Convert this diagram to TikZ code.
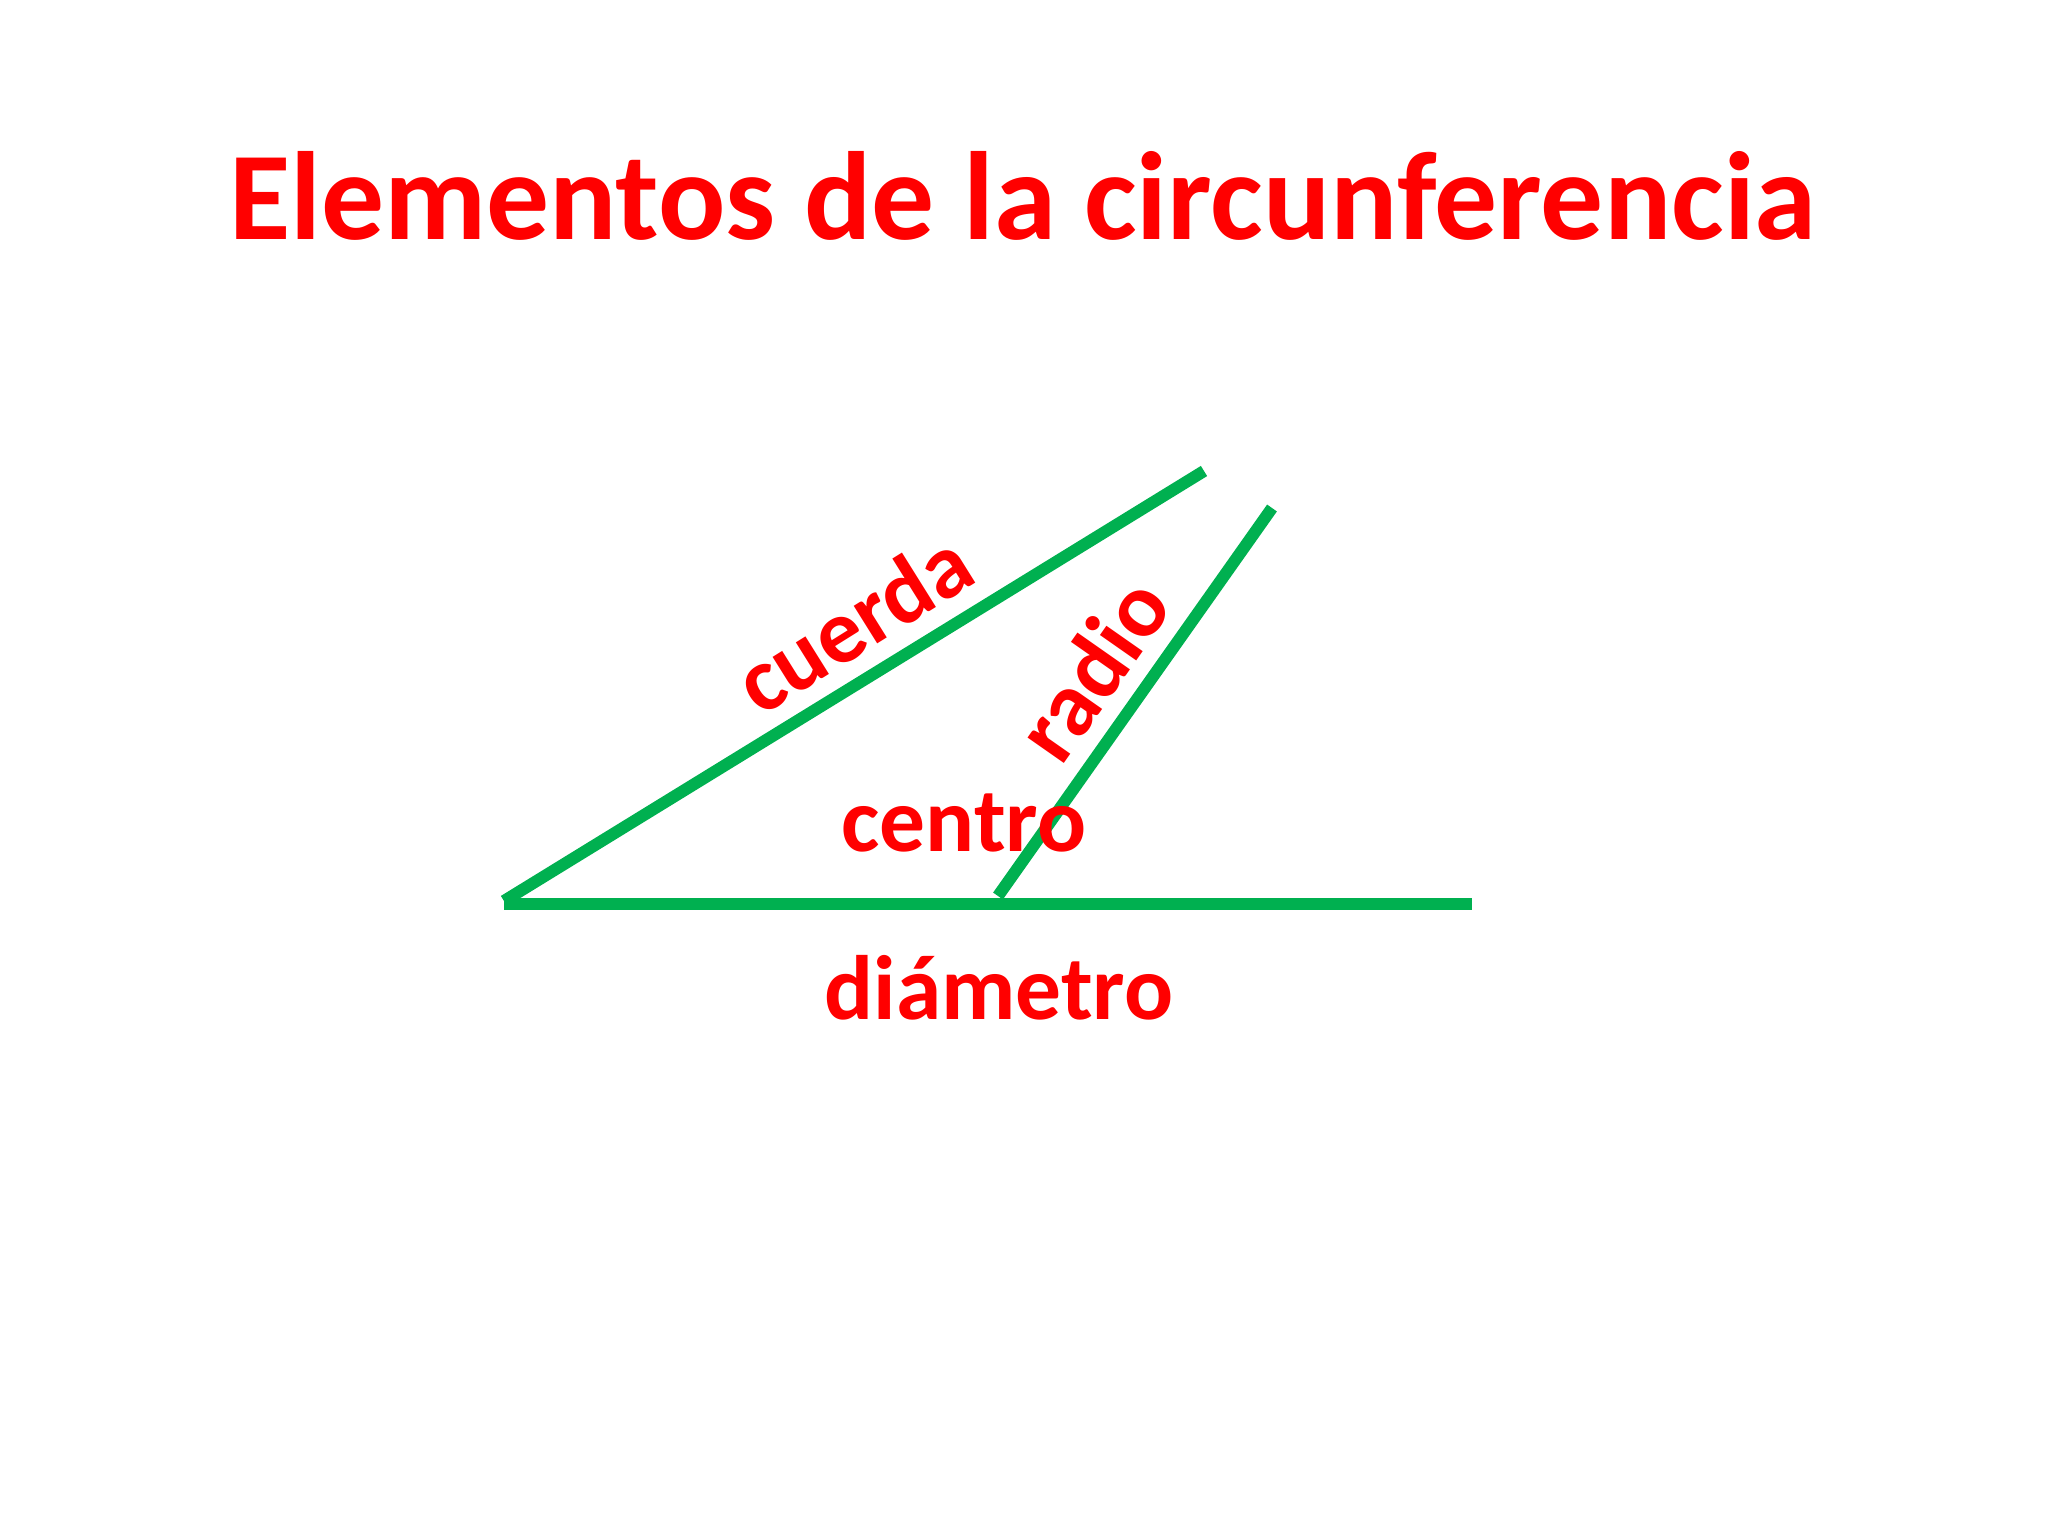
\documentclass[tikz,border=0pt]{standalone}
\usepackage{fontspec}
\setmainfont{Carlito}
\definecolor{segred}{RGB}{255,0,0}
\definecolor{seggreen}{RGB}{0,176,80}
\tikzstyle{title}=[text=segred,font=\fontsize{35.7}{42}\selectfont\bfseries,inner sep=0pt]
\tikzstyle{label}=[text=segred,font=\fontsize{26}{31}\selectfont\bfseries,inner sep=0pt]
\tikzstyle{segment}=[draw=seggreen,line width=3.4pt]

\begin{document}
\begin{tikzpicture}[x=0.01cm,y=-0.01cm]
	\useasboundingbox (0,0) rectangle (2048,1536);
	\node [style=title,anchor=base] (title) at (1023, 239) {Elementos de la circunferencia};
	\coordinate (chordA) at (504, 901);
	\coordinate (chordB) at (1204, 471);
	\coordinate (centre) at (998, 896);
	\coordinate (rim) at (1272, 508);
	\coordinate (diamA) at (504, 904);
	\coordinate (diamB) at (1472, 904);
	\draw [style=segment] (chordA) -- (chordB);
	\draw [style=segment] (centre) -- (rim);
	\draw [style=segment] (diamA) -- (diamB);
	\node [style=label,rotate=32] (cuerda) at (853, 622) {cuerda};
	\node [style=label,rotate=55] (radio) at (1092, 669) {radio};
	\node [style=label,anchor=base] (centro) at (964, 851) {centro};
	\node [style=label,anchor=base] (diametro) at (999, 1019) {diámetro};
\end{tikzpicture}
\end{document}
